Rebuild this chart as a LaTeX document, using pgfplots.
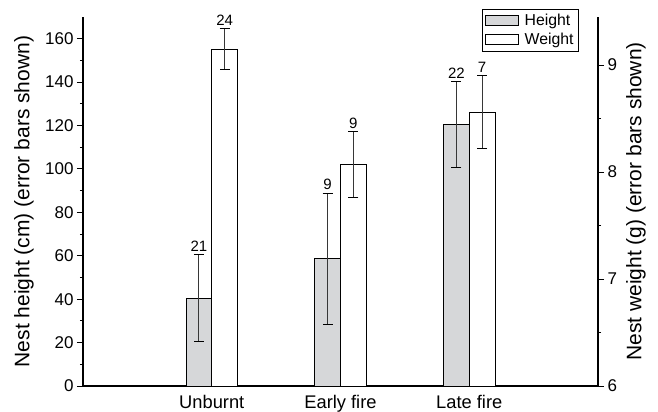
\documentclass[border=0pt]{standalone}
\usepackage{pgfplots}
\pgfplotsset{compat=1.18}
\usepackage{pgfplotstable}
\usepackage{fontspec}
\setmainfont{Liberation Sans}
\definecolor{barGray}{RGB}{214,215,217}
\definecolor{errCol}{RGB}{55,55,55}

\pgfplotstableread{
x h he n
1 40.5 20.0 21
2 58.6 30.2 9
3 120.5 19.7 22
}\heighttab
\pgfplotstableread{
x w we n
1 9.15 0.19 24
2 8.07 0.31 9
3 8.56 0.34 7
}\weighttab

\begin{document}
\begin{tikzpicture}
\useasboundingbox (0,0) rectangle (658bp,412bp);
\begin{axis}[
  at={(83bp,26bp)}, anchor=south west, scale only axis,
  width=515bp, height=369bp,
  xmin=0, xmax=4, ymin=0, ymax=170,
  ybar, bar width=0.2,
  axis x line*=bottom, axis y line*=left,
  axis line style={-, line width=1.1bp, black},
  xtick={1,2,3}, xticklabels={Unburnt, Early fire, Late fire},
  x tick style={draw=none}, major x tick style={draw=none},
  ytick={0,20,...,160}, minor y tick num=1,
  tick align=outside, major tick length=6bp, minor tick length=3bp,
  y tick style={line width=0.9bp, black},
  clip=false,
  /pgf/number format/assume math mode=true,
  yticklabel style={font=\fontsize{17bp}{20bp}\selectfont},
  xticklabel style={font=\fontsize{18.3bp}{22bp}\selectfont},
  ylabel={Nest height (cm) (error bars shown)},
  every axis y label/.style={at={(axis description cs:-0.1146,0.5)}, rotate=90, anchor=center, font=\fontsize{21bp}{25bp}\selectfont},
  legend style={at={(axis description cs:0.963,1.022)}, anchor=north east,
    draw=black, line width=0.8bp, font=\fontsize{15.8bp}{18bp}\selectfont,
    inner sep=2bp, row sep=0pt, column sep=3bp, nodes={inner sep=3bp}},
  legend cell align=left,
  legend image code/.code={\draw[#1, line width=0.8bp] (0bp,-5bp) rectangle (33bp,5bp);},
]
\addlegendimage{fill=barGray, draw=black}
\addlegendentry{Height}
\addlegendimage{fill=white, draw=black}
\addlegendentry{Weight}
\addplot[forget plot, bar shift=-0.1, fill=barGray, draw=black, line width=0.9bp,
  error bars/.cd, y dir=both, y explicit, error mark=|,
  error bar style={line width=1bp, errCol},
  error mark options={black, line width=1bp, mark size=5bp}]
  table[x=x, y=h, y error=he]{\heighttab};
\addplot[forget plot, sharp plot, bar shift=0pt, draw=none, mark=none, nodes near coords, point meta=explicit symbolic,
  nodes near coords style={font=\fontsize{15bp}{18bp}\selectfont, anchor=south, inner sep=3bp, black}]
  table[x expr=\thisrow{x}-0.1, y expr=\thisrow{h}+\thisrow{he}, meta=n]{\heighttab};
\addplot[forget plot, sharp plot, bar shift=0pt, draw=none, mark=none, nodes near coords, point meta=explicit symbolic,
  nodes near coords style={font=\fontsize{15bp}{18bp}\selectfont, anchor=south, inner sep=3bp, black}]
  table[x expr=\thisrow{x}+0.1, y expr=(\thisrow{w}+\thisrow{we}-6)*170/3.45, meta=n]{\weighttab};
\end{axis}
\begin{axis}[
  at={(83bp,26bp)}, anchor=south west, scale only axis,
  width=515bp, height=369bp,
  xmin=0, xmax=4, ymin=6, ymax=9.45,
  ybar, bar width=0.2,
  axis x line=none, axis y line*=right,
  axis line style={-, line width=1.1bp, black},
  ytick={6,7,8,9}, minor y tick num=1,
  tick align=outside, major tick length=6bp, minor tick length=3bp,
  y tick style={line width=0.9bp, black},
  /pgf/number format/assume math mode=true,
  yticklabel style={font=\fontsize{17bp}{20bp}\selectfont},
  ylabel={Nest weight (g) (error bars shown)},
  every axis y label/.style={at={(axis description cs:1.0738,0.5)}, rotate=90, anchor=center, font=\fontsize{21bp}{25bp}\selectfont},
]
\addplot[bar shift=0.1, fill=white, draw=black, line width=0.9bp,
  error bars/.cd, y dir=both, y explicit, error mark=|,
  error bar style={line width=1bp, errCol},
  error mark options={black, line width=1bp, mark size=5bp}]
  table[x=x, y=w, y error=we]{\weighttab};
\end{axis}
\end{tikzpicture}
\end{document}
